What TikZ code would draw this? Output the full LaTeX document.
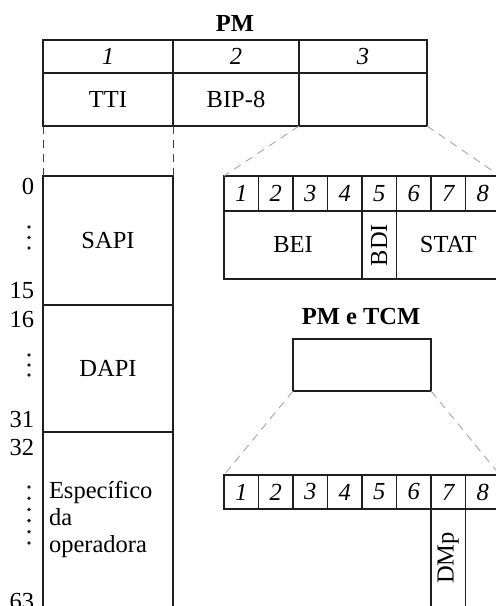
\documentclass[tikz,border=0pt]{standalone}
\usepackage{fontspec}
\setmainfont{Liberation Serif}
\begin{document}
\begin{tikzpicture}[x=1pt,y=-1pt,
  txt/.style={font=\fontsize{24.5}{27}\selectfont, inner sep=0pt, outer sep=0pt},
  cell/.style={txt, rectangle, draw=black!88, line width=1.6pt, anchor=north west},
  dig/.style={cell, font=\fontsize{24.5}{27}\selectfont\itshape},
  lbl/.style={txt},
  dark dash/.style={draw=black!75, line width=1pt, dash pattern=on 8pt off 6pt},
  gray dash/.style={draw=black!35, line width=0.9pt, dash pattern=on 8pt off 6pt},
  dotmark/.style={fill=black!88}
]
\clip (0,0) rectangle (496,606);
\fill[white] (0,0) rectangle (496,606);

% ---- PM table
\node[txt, font=\fontsize{24.5}{27}\selectfont\bfseries] (pm) at (235,23.5) {PM};
\node[dig, minimum width=130pt, minimum height=33pt] (t1) at (43,40) {1};
\node[dig, minimum width=126pt, minimum height=33pt] (t2) at (173,40) {2};
\node[dig, minimum width=128pt, minimum height=33pt] (t3) at (299,40) {3};
\node[cell, minimum width=130pt, minimum height=53pt] (tti) at (43,73) {TTI};
\node[cell, minimum width=126pt, minimum height=53pt] (bip) at (173,73) {BIP-8};
\node[cell, minimum width=128pt, minimum height=53pt] (t3b) at (299,73) {};

% ---- left column
\node[cell, minimum width=130pt, minimum height=129pt] (sapi) at (43,176) {SAPI};
\node[cell, minimum width=130pt, minimum height=127pt] (dapi) at (43,305) {DAPI};
\node[cell, minimum width=130pt, minimum height=220pt] (esp) at (43,432) {};
\node[txt, anchor=north west, align=left] (esptxt) at (49,481) {Específico\\da\\operadora};

\draw[dark dash] (tti.south west) -- (sapi.north west);
\draw[dark dash] (tti.south east) -- (sapi.north east);

% numbers
\node[txt, anchor=base east] (n0) at (34,194) {0};
\node[txt, anchor=base east] (n15) at (34,298) {15};
\node[txt, anchor=base east] (n16) at (34,327) {16};
\node[txt, anchor=base east] (n31) at (34,427) {31};
\node[txt, anchor=base east] (n32) at (34,455) {32};
\node[txt, anchor=base east] (n63) at (34,609) {63};

\foreach \y in {227,237.5,248} \fill[dotmark] (29,\y) circle (1.9pt);
\foreach \y in {355,365,375} \fill[dotmark] (29,\y) circle (1.9pt);
\foreach \y in {487,498.2,509.4,520.6,531.8,543} \fill[dotmark] (29,\y) circle (1.9pt);

% ---- BEI table
\foreach \i in {1,...,8} {
  \node[dig, minimum width=34.5pt, minimum height=35pt] (a\i) at ({224+34.5*(\i-1)},176) {\i};
}
\node[cell, minimum width=138pt, minimum height=68pt] (bei) at (224,211) {BEI};
\node[cell, minimum width=34.5pt, minimum height=68pt] (bdi) at (362,211) {\rotatebox{90}{BDI}};
\node[cell, minimum width=103.5pt, minimum height=68pt] (stat) at (396.5,211) {STAT};

\draw[gray dash] (t3b.south west) -- (a1.north west);
\draw[gray dash] (t3b.south east) -- (a8.north east);

% ---- PM e TCM
\node[txt, font=\fontsize{24.5}{27}\selectfont\bfseries] (pmtcm) at (361,317) {PM e TCM};
\node[cell, minimum width=138pt, minimum height=52pt] (box) at (293,339) {};

\foreach \i in {1,...,8} {
  \node[dig, minimum width=34.5pt, minimum height=34pt] (c\i) at ({224+34.5*(\i-1)},475) {\i};
}
\node[cell, minimum width=34.5pt, minimum height=140pt] (dmp) at (431,509) {};
\node[txt, rotate=90] (dmptxt) at (448.25,558) {DMp};

\draw[gray dash] (box.south west) -- (c1.north west);
\draw[gray dash] (box.south east) -- (c8.north east);
\end{tikzpicture}
\end{document}
